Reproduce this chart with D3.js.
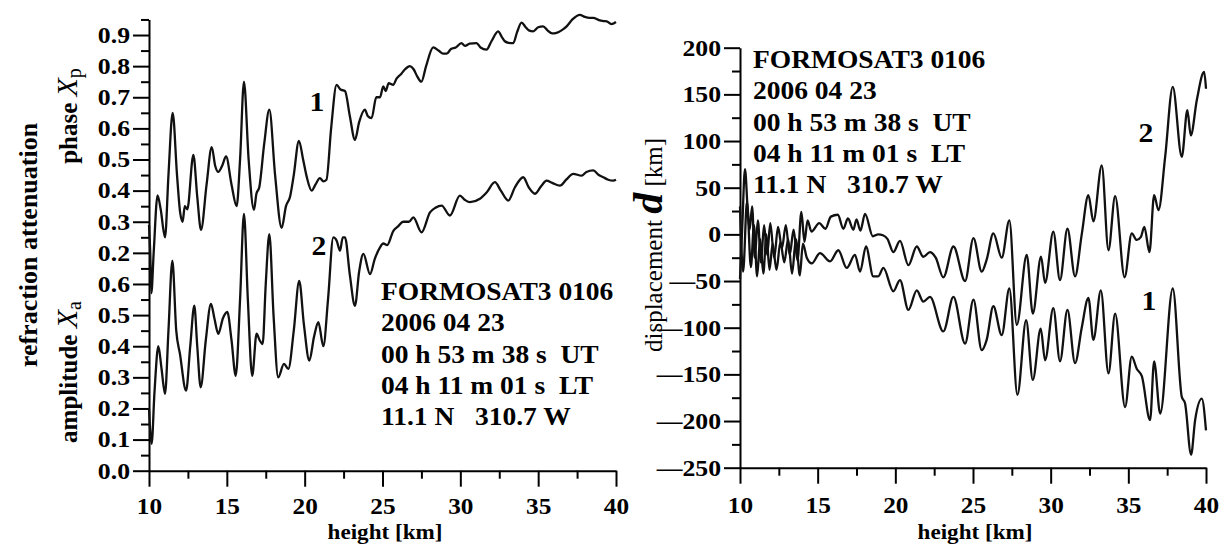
<!DOCTYPE html>
<html><head><meta charset="utf-8">
<script src="https://cdn.jsdelivr.net/npm/d3@7"></script>
<style>
body{margin:0;background:#fff;}
svg{display:block;background:#fff;}
text{font-family:"Liberation Serif","Times New Roman",serif;font-weight:bold;fill:#000;white-space:pre;}
</style></head><body>
<svg id="c" width="1228" height="546"></svg>
<script>
// ---------- data ----------
const heightTicks = [10, 15, 20, 25, 30, 35, 40];
const heightMinorTicks = [12.5, 17.5, 22.5, 27.5, 32.5, 37.5];
// left panel: one stacked axis; upper half shows phase (offset by 0.5)
const leftTickValues = [0, 0.1, 0.2, 0.3, 0.4, 0.5, 0.6, 0.7, 0.8, 0.9, 1.0, 1.1, 1.2, 1.3, 1.4];
const leftTickLabels = ["0.0","0.1","0.2","0.3","0.4","0.5","0.6","0.2","0.3","0.4","0.5","0.6","0.7","0.8","0.9"];
const leftMinorTicks = [0.05,0.15,0.25,0.35,0.45,0.55,0.65,0.75,0.85,0.95,1.05,1.15,1.25,1.35,1.45];
const phaseOffset = 0.5;
const rightTickValues = [-250, -200, -150, -100, -50, 0, 50, 100, 150, 200];
const rightMinorTicks = [-225, -175, -125, -75, -25, 25, 75, 125, 175];

const phaseHeight = [10.0,10.08,10.15,10.3,10.55,10.75,11.03,11.25,11.52,11.8,12.0,12.16,12.3,12.46,12.85,13.1,13.34,13.7,14.03,14.25,14.45,14.7,14.95,15.3,15.63,15.85,16.1,16.4,16.74,16.9,17.08,17.4,17.73,18.1,18.52,18.8,19.06,19.3,19.63,19.9,20.13,20.45,20.7,20.98,21.2,21.4,21.7,22.05,22.3,22.59,22.9,23.23,23.5,23.87,24.05,24.3,24.6,24.84,25.05,25.2,25.4,25.69,25.9,26.2,26.45,26.76,27.0,27.2,27.5,27.8,28.26,28.6,28.9,29.12,29.4,29.7,30.07,30.3,30.6,31.04,31.3,31.68,32.0,32.43,32.65,32.86,33.1,33.4,33.65,33.93,34.2,34.4,34.68,35.0,35.32,35.6,35.9,36.18,36.5,36.83,37.2,37.68,38.0,38.3,38.54,38.9,39.2,39.4,39.7,40.0];
const phaseXp = [0.29,0.2,0.07,0.2,0.385,0.34,0.25,0.45,0.65,0.45,0.33,0.30,0.35,0.34,0.515,0.38,0.274,0.42,0.54,0.48,0.46,0.48,0.51,0.42,0.35,0.5,0.75,0.5,0.338,0.39,0.41,0.55,0.66,0.45,0.28,0.35,0.38,0.45,0.56,0.5,0.445,0.40,0.42,0.44,0.43,0.435,0.6,0.74,0.725,0.72,0.64,0.563,0.62,0.66,0.64,0.633,0.7,0.70,0.735,0.72,0.745,0.74,0.76,0.775,0.79,0.80,0.79,0.77,0.75,0.8,0.86,0.85,0.84,0.84,0.855,0.86,0.874,0.865,0.872,0.874,0.86,0.853,0.88,0.912,0.895,0.88,0.875,0.874,0.91,0.94,0.925,0.915,0.912,0.925,0.928,0.915,0.905,0.907,0.915,0.928,0.95,0.965,0.958,0.955,0.955,0.948,0.945,0.944,0.935,0.942];

const ampHeight = [10.0,10.17,10.35,10.6,10.8,11.03,11.25,11.5,11.75,11.99,12.38,12.65,12.91,13.1,13.32,13.65,13.98,14.2,14.45,14.75,15.03,15.3,15.57,15.85,16.1,16.35,16.63,16.91,17.1,17.3,17.5,17.73,18.0,18.3,18.67,18.95,19.3,19.65,19.95,20.3,20.6,20.88,21.2,21.5,21.84,22.05,22.27,22.45,22.59,22.9,23.23,23.5,23.77,24.2,24.5,24.84,25.05,25.3,25.69,26.0,26.33,26.7,26.98,27.51,28.05,28.4,28.8,29.33,29.97,30.3,30.62,31.26,31.7,32.22,32.6,33.08,33.5,34.04,34.4,34.79,35.2,35.54,35.9,36.4,36.8,37.25,37.79,38.1,38.54,38.9,39.18,39.5,39.82,40.0];
const ampXa = [0.2,0.086,0.25,0.40,0.33,0.247,0.45,0.675,0.45,0.375,0.257,0.4,0.53,0.4,0.268,0.42,0.536,0.49,0.44,0.49,0.51,0.42,0.305,0.55,0.825,0.55,0.305,0.44,0.42,0.407,0.6,0.76,0.5,0.30,0.343,0.327,0.45,0.61,0.47,0.354,0.43,0.477,0.40,0.55,0.75,0.74,0.707,0.75,0.75,0.63,0.53,0.64,0.697,0.632,0.68,0.718,0.73,0.725,0.77,0.785,0.80,0.80,0.814,0.766,0.83,0.845,0.852,0.82,0.884,0.87,0.863,0.874,0.895,0.927,0.9,0.868,0.91,0.943,0.91,0.89,0.915,0.932,0.925,0.916,0.935,0.954,0.948,0.96,0.965,0.95,0.943,0.935,0.932,0.935];

const disp2Height = [10.0,10.15,10.32,10.5,10.62,10.78,10.95,11.15,11.35,11.55,11.75,11.95,12.2,12.45,12.7,12.95,13.2,13.45,13.7,13.95,14.15,14.35,14.6,15.1,15.5,15.85,16.3,16.65,16.95,17.3,17.5,17.75,18.05,18.55,18.9,19.2,19.5,19.87,20.3,20.84,21.38,21.8,22.23,22.6,23.09,23.74,24.49,25.03,25.56,25.88,26.31,26.85,27.34,27.82,28.46,28.85,29.38,29.64,30.17,30.6,31.08,31.57,32.0,32.43,32.75,33.29,33.72,34.15,34.76,35.22,35.54,35.8,36.03,36.36,36.66,36.94,37.37,37.86,38.44,38.8,39.02,39.41,39.88,40.0];
const disp2 = [-48,10,70,25,5,30,-25,15,-30,10,-22,12,-25,8,-15,10,-22,5,-28,24,-8,15,3,12,6,19,21,6,17,5,16,4,22,-2,0,-1,-5,-19,-7,-33,-13,-24,-19,-25,-46,-13,-50,-4,-40,-27,1,-25,15,-97,-22,-85,-24,-52,3,-49,6,-45,0,42,14,74,-17,41,-46,1,-6,-3,8,-19,42,26,83,158,83,133,106,144,174,156];

const disp1Height = [10.0,10.2,10.45,10.7,10.9,11.1,11.3,11.5,11.7,11.9,12.1,12.35,12.6,12.85,13.1,13.35,13.6,13.85,14.05,14.3,14.62,15.15,15.8,16.33,16.87,17.4,17.73,18.11,18.58,18.9,19.23,19.87,20.3,20.84,21.38,21.8,22.23,23.09,23.74,24.49,25.03,25.56,25.88,26.31,26.85,27.34,27.86,28.42,28.85,29.36,29.64,30.17,30.6,31.08,31.57,32.0,32.43,32.75,33.23,33.72,34.15,34.79,35.22,35.54,35.87,36.4,36.66,37.05,37.86,38.44,38.65,39.04,39.3,39.73,40.0];
const disp1 = [30,-40,35,-35,10,-45,-5,-42,0,-38,-10,-38,-8,-30,-5,-42,-5,-44,-10,-25,-31,-20,-29,-17,-36,-22,-40,-13,-45,-45,-36,-61,-49,-81,-60,-72,-67,-104,-67,-117,-70,-124,-113,-77,-108,-58,-172,-92,-156,-101,-135,-79,-136,-81,-138,-100,-68,-113,-60,-149,-85,-185,-131,-144,-152,-199,-136,-192,-58,-174,-181,-236,-199,-176,-210];

const infoLines = ["FORMOSAT3 0106", "2006 04 23", "00 h 53 m 38 s  UT", "04 h 11 m 01 s  LT", "11.1 N   310.7 W"];

// ---------- drawing ----------
const svg = d3.select("#c");
const SX = 1.1; // horizontal stretch of the original typography

function stretch(sel, sx) {
  sel.each(function () {
    const t = d3.select(this);
    const x = +t.attr("x") || 0;
    t.attr("x", x / sx).attr("transform", `scale(${sx},1)`);
  });
}
function text(g, x, y, s, size, anchor) {
  return g.append("text").attr("transform", `translate(${x},${y}) scale(${SX},1)`)
    .attr("text-anchor", anchor || "start").style("font-size", size + "px").text(s);
}
function styleAxis(g, fs) {
  g.selectAll("path.domain").attr("stroke", "#000").attr("stroke-width", 2);
  g.selectAll(".tick line").attr("stroke", "#000").attr("stroke-width", 2);
  g.selectAll(".tick text").style("font-size", (fs || 23) + "px").attr("fill", "#000")
   .style("font-family", '"Liberation Serif","Times New Roman",serif').style("font-weight", "bold");
}
const minusFmt = d => d < 0 ? "\u2014" + Math.abs(d) : String(d);

// left panel scales
const xL = d3.scaleLinear().domain([10, 40]).range([149, 616]);
const yL = d3.scaleLinear().domain([0, 1.45]).range([470.7, 470.7 - 1.45 * 311.2]);
// right panel scales
const xR = d3.scaleLinear().domain([10, 40]).range([740, 1206]);
const yR = d3.scaleLinear().domain([-250, 200]).range([467.7, 47.7]);

// ----- left axes
const gLy = svg.append("g").attr("transform", "translate(149,0)")
  .call(d3.axisLeft(yL).tickValues(leftTickValues).tickSize(16).tickSizeOuter(0).tickPadding(3)
    .tickFormat((d, i) => leftTickLabels[i]));
styleAxis(gLy, 23); stretch(gLy.selectAll(".tick text"), 1.12);
const gLym = svg.append("g").attr("transform", "translate(149,0)")
  .call(d3.axisLeft(yL).tickValues(leftMinorTicks).tickSize(8).tickSizeOuter(0).tickFormat(""));
styleAxis(gLym); gLym.select("path.domain").remove();
const gLx = svg.append("g").attr("transform", "translate(0,470.7)")
  .call(d3.axisBottom(xL).tickValues(heightTicks).tickSize(16).tickSizeOuter(0).tickPadding(11));
styleAxis(gLx, 23); stretch(gLx.selectAll(".tick text"), SX);
const gLxm = svg.append("g").attr("transform", "translate(0,470.7)")
  .call(d3.axisBottom(xL).tickValues(heightMinorTicks).tickSize(8).tickSizeOuter(0).tickFormat(""));
styleAxis(gLxm); gLxm.select("path.domain").remove();

// ----- right axes
const gRy = svg.append("g").attr("transform", "translate(740,0)")
  .call(d3.axisLeft(yR).tickValues(rightTickValues).tickSize(16).tickSizeOuter(0).tickPadding(3)
    .tickFormat(minusFmt));
styleAxis(gRy, 23); stretch(gRy.selectAll(".tick text"), 1.12);
const gRym = svg.append("g").attr("transform", "translate(740,0)")
  .call(d3.axisLeft(yR).tickValues(rightMinorTicks).tickSize(8).tickSizeOuter(0).tickFormat(""));
styleAxis(gRym); gRym.select("path.domain").remove();
const gRx = svg.append("g").attr("transform", "translate(0,467.7)")
  .call(d3.axisBottom(xR).tickValues(heightTicks).tickSize(16).tickSizeOuter(0).tickPadding(13));
styleAxis(gRx, 23); stretch(gRx.selectAll(".tick text"), SX);
const gRxm = svg.append("g").attr("transform", "translate(0,467.7)")
  .call(d3.axisBottom(xR).tickValues(heightMinorTicks).tickSize(8).tickSizeOuter(0).tickFormat(""));
styleAxis(gRxm); gRxm.select("path.domain").remove();

// ----- curves
const curve = d3.curveMonotoneX;
const lineL = d3.line().x(d => xL(d[0])).y(d => yL(d[1])).curve(curve);
const lineR = d3.line().x(d => xR(d[0])).y(d => yR(d[1])).curve(curve);
const phasePts = phaseHeight.map((h, i) => [h, phaseXp[i] + phaseOffset]);
const ampPts = ampHeight.map((h, i) => [h, ampXa[i]]);
const d1Pts = disp1Height.map((h, i) => [h, disp1[i]]);
const d2Pts = disp2Height.map((h, i) => [h, disp2[i]]);
[[lineL, phasePts], [lineL, ampPts], [lineR, d1Pts], [lineR, d2Pts]].forEach(([ln, pts]) => {
  svg.append("path").attr("d", ln(pts)).attr("fill", "none").attr("stroke", "#111")
    .attr("stroke-width", 2.3).attr("stroke-linejoin", "round");
});

// ----- curve labels
text(svg, 317, 111, "1", 27, "middle");
text(svg, 319, 255, "2", 27, "middle");
text(svg, 1146, 142, "2", 27, "middle");
text(svg, 1149, 310, "1", 27, "middle");

// ----- info blocks
const leftBase = [300, 331.3, 362.6, 393.9, 425.2];
const rightBase = [68, 99.3, 130.6, 161.9, 193.2];
infoLines.forEach((s, i) => {
  text(svg, 381, leftBase[i], s, 25);
  text(svg, 753, rightBase[i], s, 25);
});

// ----- axis titles
text(svg, 385, 539, "height [km]", 21, "middle");
text(svg, 975, 539, "height [km]", 21, "middle");

function vtext(x, y, size) {
  return svg.append("text").attr("transform", `translate(${x},${y}) rotate(-90)`)
    .attr("text-anchor", "middle").style("font-size", size + "px");
}
vtext(37, 245, 26).text("refraction attenuation");
const tp = vtext(77, 116, 25);
tp.append("tspan").text("phase ");
tp.append("tspan").style("font-style", "italic").style("font-weight", "normal").style("font-size", "30px").text("X");
tp.append("tspan").attr("dy", "0.2em").style("font-weight", "normal").style("font-size", "20px").text("p");
const ta = vtext(77, 372, 25);
ta.append("tspan").text("amplitude ");
ta.append("tspan").style("font-style", "italic").style("font-weight", "normal").style("font-size", "30px").text("X");
ta.append("tspan").attr("dy", "0.2em").style("font-weight", "normal").style("font-size", "20px").text("a");
const td = vtext(662, 245, 25);
td.append("tspan").style("font-weight", "normal").text("displacement ");
td.append("tspan").style("font-style", "italic").style("font-size", "42px").text("d");
td.append("tspan").style("font-weight", "normal").text(" [km]");
</script>
</body></html>
